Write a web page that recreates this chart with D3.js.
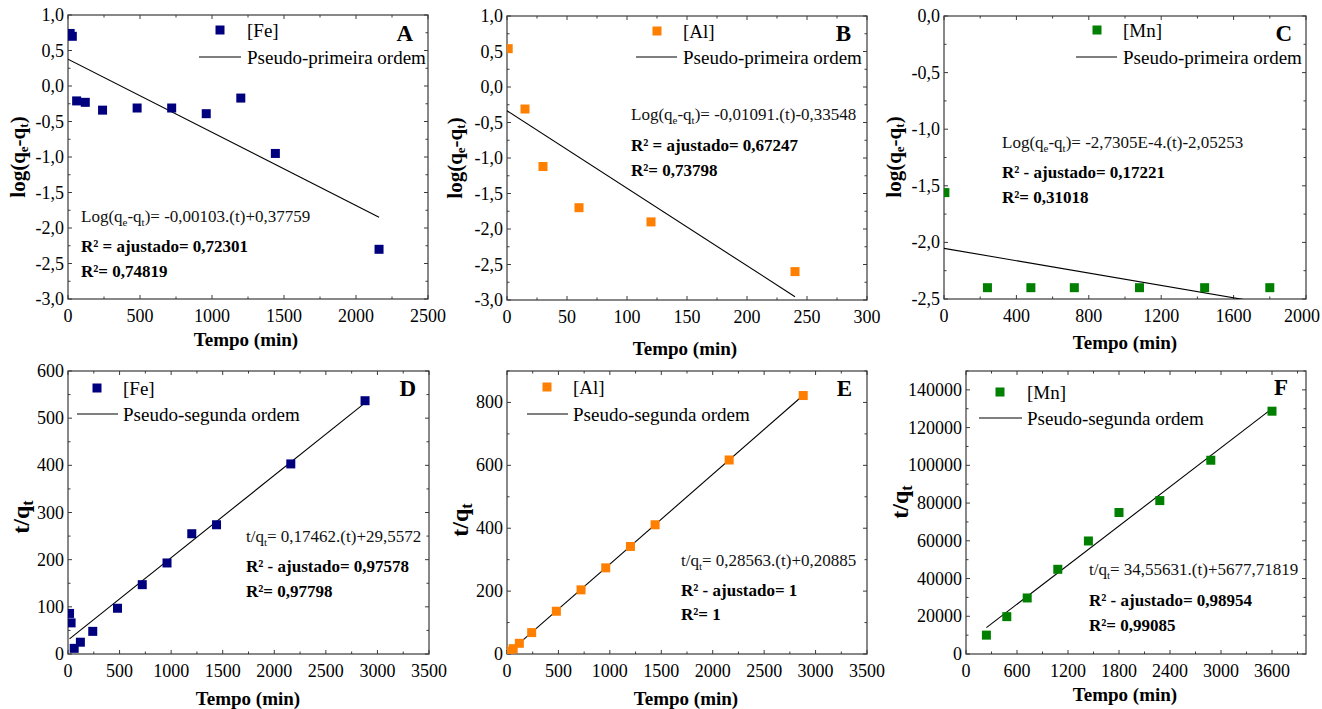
<!DOCTYPE html>
<html>
<head>
<meta charset="utf-8">
<script src="https://cdn.jsdelivr.net/npm/d3@7"></script>
<style>
  html, body { margin: 0; padding: 0; background: #fff; }
  svg { display: block; }
  svg text { font-family: "Liberation Serif", "Times New Roman", Times, "DejaVu Serif", serif; }
</style>
</head>
<body>
<svg id="chart" width="1322" height="709" font-family="Liberation Serif, Times New Roman, serif"></svg>
<script>
// ---- Kinetic data: pseudo-first order (log(qe-qt) vs t) ----
const feTime1 = [15, 30, 60, 120, 240, 480, 720, 960, 1200, 1440, 2160];
const feLog   = [0.74, 0.70, -0.21, -0.23, -0.34, -0.31, -0.31, -0.39, -0.17, -0.95, -2.30];
const alTime1 = [1, 15, 30, 60, 120, 240];
const alLog   = [0.54, -0.31, -1.12, -1.70, -1.90, -2.60];
const mnTime1 = [5, 240, 480, 720, 1080, 1440, 1800];
const mnLog   = [-1.56, -2.40, -2.40, -2.40, -2.40, -2.40, -2.40];

// ---- Kinetic data: pseudo-second order (t/qt vs t) ----
const feTime2 = [15, 30, 60, 120, 240, 480, 720, 960, 1200, 1440, 2160, 2880];
const feRatio = [86, 66, 12, 25, 48, 97, 147, 193, 255, 274, 403, 537];
const alTime2 = [15, 30, 60, 120, 240, 480, 720, 960, 1200, 1440, 2160, 2880];
const alRatio = [4.5, 9, 17, 34, 68, 136, 204, 274, 342, 411, 617, 822];
const mnTime2 = [240, 480, 720, 1080, 1440, 1800, 2280, 2880, 3600];
const mnRatio = [10000, 19800, 29700, 44900, 59900, 75000, 81300, 102700, 128700];

// ---- Linear fits (slope, intercept) and fitted time range ----
const fitSlope     = [-0.00103, -0.01091, -2.7305e-4, 0.17462, 0.28563, 34.55631];
const fitIntercept = [0.37759, -0.33548, -2.05253, 29.5572, 0.20885, 5677.71819];
const fitRange     = [[0, 2160], [0, 240], [0, 1800], [15, 2880], [15, 2880], [240, 3600]];

// ---- Labels ----
const panelLetters = ["A", "B", "C", "D", "E", "F"];
const seriesNames  = ["[Fe]", "[Al]", "[Mn]", "[Fe]", "[Al]", "[Mn]"];
const fitNames     = ["Pseudo-primeira ordem", "Pseudo-primeira ordem", "Pseudo-primeira ordem",
                      "Pseudo-segunda ordem", "Pseudo-segunda ordem", "Pseudo-segunda ordem"];
const eqTails      = ["= -0,00103.(t)+0,37759", "= -0,01091.(t)-0,33548", "= -2,7305E-4.(t)-2,05253",
                      "= 0,17462.(t)+29,5572", "= 0,28563.(t)+0,20885", "= 34,55631.(t)+5677,71819"];
const r2Adjusted   = ["R² = ajustado= 0,72301", "R² = ajustado= 0,67247", "R² - ajustado= 0,17221",
                      "R² - ajustado= 0,97578", "R² - ajustado= 1", "R² - ajustado= 0,98954"];
const r2Plain      = ["R²= 0,74819", "R²= 0,73798", "R²= 0,31018",
                      "R²= 0,97798", "R²= 1", "R²= 0,99085"];
const xTitle = "Tempo (min)";

const colors = { fe: "#00007f", al: "#ff7f00", mn: "#007f00" };

// ---- Panel layout ----
const panels = [
  { x: feTime1, y: feLog, color: colors.fe, box: [68, 15, 428, 299],
    xDom: [0, 2500], xStep: 500, yDom: [-3, 1], yStep: 0.5, yDec: 1, kind: "log",
    legSq: [220, 30], legTx: 247, legLn: [199, 241, 57], letter: [413, 41],
    eq: [81, 222], r2a: [81, 252], r2: [81, 277], xt: [246, 346], yt: [20, 157] },
  { x: alTime1, y: alLog, color: colors.al, box: [507, 16, 867, 300],
    xDom: [0, 300], xStep: 50, yDom: [-3, 1], yStep: 0.5, yDec: 1, kind: "log",
    legSq: [657, 31], legTx: 683, legLn: [636, 677, 57], letter: [851, 41],
    eq: [631, 120], r2a: [631, 151], r2: [631, 176], xt: [685, 355], yt: [457, 158] },
  { x: mnTime1, y: mnLog, color: colors.mn, box: [944, 16, 1306, 299],
    xDom: [0, 2000], xStep: 400, yDom: [-2.5, 0], yStep: 0.5, yDec: 1, kind: "log",
    legSq: [1097, 30], legTx: 1123, legLn: [1076, 1117, 57], letter: [1292, 41],
    eq: [1002, 148], r2a: [1002, 178], r2: [1002, 203], xt: [1125, 349], yt: [896, 157] },
  { x: feTime2, y: feRatio, color: colors.fe, box: [68, 371, 429, 654],
    xDom: [0, 3500], xStep: 500, yDom: [0, 600], yStep: 100, yDec: 0, kind: "ratio",
    legSq: [97, 388], legTx: 123, legLn: [77, 118, 414], letter: [416, 396],
    eq: [246, 542], r2a: [246, 572], r2: [246, 597], xt: [248, 705], yt: [23, 517] },
  { x: alTime2, y: alRatio, color: colors.al, box: [507, 371, 867, 654],
    xDom: [0, 3500], xStep: 500, yDom: [0, 900], yStep: 200, yDec: 0, kind: "ratio",
    legSq: [547, 387], legTx: 573, legLn: [527, 568, 414], letter: [852, 396],
    eq: [681, 566], r2a: [681, 596], r2: [681, 620], xt: [686, 705], yt: [462, 520] },
  { x: mnTime2, y: mnRatio, color: colors.mn, box: [966, 371, 1306, 654],
    xDom: [0, 4000], xStep: 600, xMax: 3600, yDom: [0, 150000], yStep: 20000, yDec: 0, kind: "ratio",
    legSq: [1000, 392], legTx: 1027, legLn: [979, 1022, 418], letter: [1288, 395],
    eq: [1089, 575], r2a: [1089, 606], r2: [1089, 631], xt: [1125, 701], yt: [902, 502] }
];

const svg = d3.select("#chart");
const frameColor = "#3a3a3a";
const W = 1322;

function fmtTick(v, dec) {
  return (dec > 0 ? d3.format("." + dec + "f")(v) : d3.format("d")(v))
    .replace(".", ",").replace("\u2212", "-");
}

function tickValues(dom, step) {
  const out = [];
  const lo = Math.min(dom[0], dom[1]), hi = Math.max(dom[0], dom[1]);
  for (let v = Math.ceil(lo / step - 1e-9) * step; v <= hi + 1e-9; v += step) out.push(+v.toFixed(6));
  return out;
}

panels.forEach((p, i) => {
  const [bx0, by0, bx1, by1] = p.box;
  const xs = d3.scaleLinear().domain(p.xDom).range([bx0, bx1]);
  const ys = d3.scaleLinear().domain(p.yDom).range([by1, by0]);
  const g = svg.append("g");

  const clipId = "clip" + i;
  svg.append("clipPath").attr("id", clipId)
    .append("rect").attr("x", bx0).attr("y", by0).attr("width", bx1 - bx0).attr("height", by1 - by0);

  // Ticks on four sides, pointing inward (major + one minor between)
  const xMaj = tickValues(p.xDom, p.xStep);
  const xMin = tickValues(p.xDom, p.xStep / 2).filter(v => !xMaj.some(m => Math.abs(m - v) < 1e-9));
  const yMaj = tickValues(p.yDom, p.yStep);
  const yMin = tickValues(p.yDom, p.yStep / 2).filter(v => !yMaj.some(m => Math.abs(m - v) < 1e-9));
  const tk = g.append("g").attr("stroke", frameColor).attr("stroke-width", 1);
  [[xMaj, 4], [xMin, 2.5]].forEach(([vals, len]) => {
    vals.forEach(v => {
      const x = xs(v);
      tk.append("line").attr("x1", x).attr("x2", x).attr("y1", by1).attr("y2", by1 - len);
      tk.append("line").attr("x1", x).attr("x2", x).attr("y1", by0).attr("y2", by0 + len);
    });
  });
  [[yMaj, 4], [yMin, 2.5]].forEach(([vals, len]) => {
    vals.forEach(v => {
      const y = ys(v);
      tk.append("line").attr("x1", bx0).attr("x2", bx0 + len).attr("y1", y).attr("y2", y);
      tk.append("line").attr("x1", bx1).attr("x2", bx1 - len).attr("y1", y).attr("y2", y);
    });
  });

  // Frame
  g.append("rect").attr("x", bx0).attr("y", by0).attr("width", bx1 - bx0).attr("height", by1 - by0)
    .attr("fill", "none").attr("stroke", frameColor).attr("stroke-width", 1.2);

  // Tick labels (kept inside the page on the right edge)
  const xLab = xMaj.filter(v => p.xMax === undefined || v <= p.xMax);
  g.append("g").selectAll("text").data(xLab).join("text")
    .attr("x", d => xs(d)).attr("y", by1 + 23).attr("text-anchor", "middle")
    .attr("font-size", 18).attr("fill", "#000").text(d => fmtTick(d, 0))
    .each(function (d) {
      const w = this.getComputedTextLength();
      const over = xs(d) + w / 2 - (W - 2);
      if (over > 0) d3.select(this).attr("x", xs(d) - over);
    });
  g.append("g").selectAll("text").data(yMaj).join("text")
    .attr("x", bx0 - 4).attr("y", d => ys(d) + 6).attr("text-anchor", "end")
    .attr("font-size", 18).attr("fill", "#000").text(d => fmtTick(d, p.yDec));

  // Fit line from the stated equation
  const fitPts = fitRange[i].map(t => [t, fitSlope[i] * t + fitIntercept[i]]);
  g.append("path").attr("clip-path", `url(#${clipId})`)
    .attr("d", d3.line().x(d => xs(d[0])).y(d => ys(d[1]))(fitPts))
    .attr("fill", "none").attr("stroke", "#000").attr("stroke-width", 1.1);

  // Data points
  const side = 9;
  g.append("g").attr("clip-path", `url(#${clipId})`)
    .selectAll("rect").data(p.x.map((t, k) => [t, p.y[k]])).join("rect")
    .attr("x", d => xs(d[0]) - side / 2).attr("y", d => ys(d[1]) - side / 2)
    .attr("width", side).attr("height", side).attr("fill", p.color);

  // Legend
  g.append("rect").attr("x", p.legSq[0] - side / 2).attr("y", p.legSq[1] - side / 2)
    .attr("width", side).attr("height", side).attr("fill", p.color);
  g.append("text").attr("x", p.legTx).attr("y", p.legSq[1] + 7).attr("font-size", 19).text(seriesNames[i]);
  g.append("line").attr("x1", p.legLn[0]).attr("x2", p.legLn[1]).attr("y1", p.legLn[2]).attr("y2", p.legLn[2])
    .attr("stroke", "#000").attr("stroke-width", 1.1);
  g.append("text").attr("x", p.legTx).attr("y", p.legLn[2] + 7).attr("font-size", 19).text(fitNames[i]);

  // Panel letter
  g.append("text").attr("x", p.letter[0]).attr("y", p.letter[1]).attr("text-anchor", "end")
    .attr("font-size", 23).attr("font-weight", "bold").text(panelLetters[i]);

  // Equation and R² annotations
  const eq = g.append("text").attr("x", p.eq[0]).attr("y", p.eq[1]).attr("font-size", 17).attr("fill", "#111");
  if (p.kind === "log") {
    eq.append("tspan").text("Log(q");
    eq.append("tspan").attr("font-size", 11).attr("dy", 4).text("e");
    eq.append("tspan").attr("dy", -4).text("-q");
    eq.append("tspan").attr("font-size", 11).attr("dy", 4).text("t");
    eq.append("tspan").attr("dy", -4).text(")" + eqTails[i]);
  } else {
    eq.append("tspan").text("t/q");
    eq.append("tspan").attr("font-size", 11).attr("dy", 4).text("t");
    eq.append("tspan").attr("dy", -4).text(eqTails[i]);
  }
  g.append("text").attr("x", p.r2a[0]).attr("y", p.r2a[1]).attr("font-size", 17)
    .attr("font-weight", "bold").text(r2Adjusted[i]);
  g.append("text").attr("x", p.r2[0]).attr("y", p.r2[1]).attr("font-size", 17)
    .attr("font-weight", "bold").text(r2Plain[i]);

  // Axis titles
  g.append("text").attr("x", p.xt[0]).attr("y", p.xt[1]).attr("text-anchor", "middle")
    .attr("font-size", 19).attr("font-weight", "bold").text(xTitle);
  const yt = g.append("text").attr("transform", `translate(${p.yt[0]},${p.yt[1]}) rotate(-90)`)
    .attr("text-anchor", "middle").attr("dominant-baseline", "middle").attr("font-weight", "bold");
  if (p.kind === "log") {
    yt.attr("font-size", 21);
    yt.append("tspan").text("log(q");
    yt.append("tspan").attr("font-size", 13).attr("dy", 5).text("e");
    yt.append("tspan").attr("dy", -5).text("-q");
    yt.append("tspan").attr("font-size", 13).attr("dy", 5).text("t");
    yt.append("tspan").attr("dy", -5).text(")");
  } else {
    yt.attr("font-size", 24);
    yt.append("tspan").text("t/q");
    yt.append("tspan").attr("font-size", 16).attr("dy", 6).text("t");
  }
});
</script>
</body>
</html>
